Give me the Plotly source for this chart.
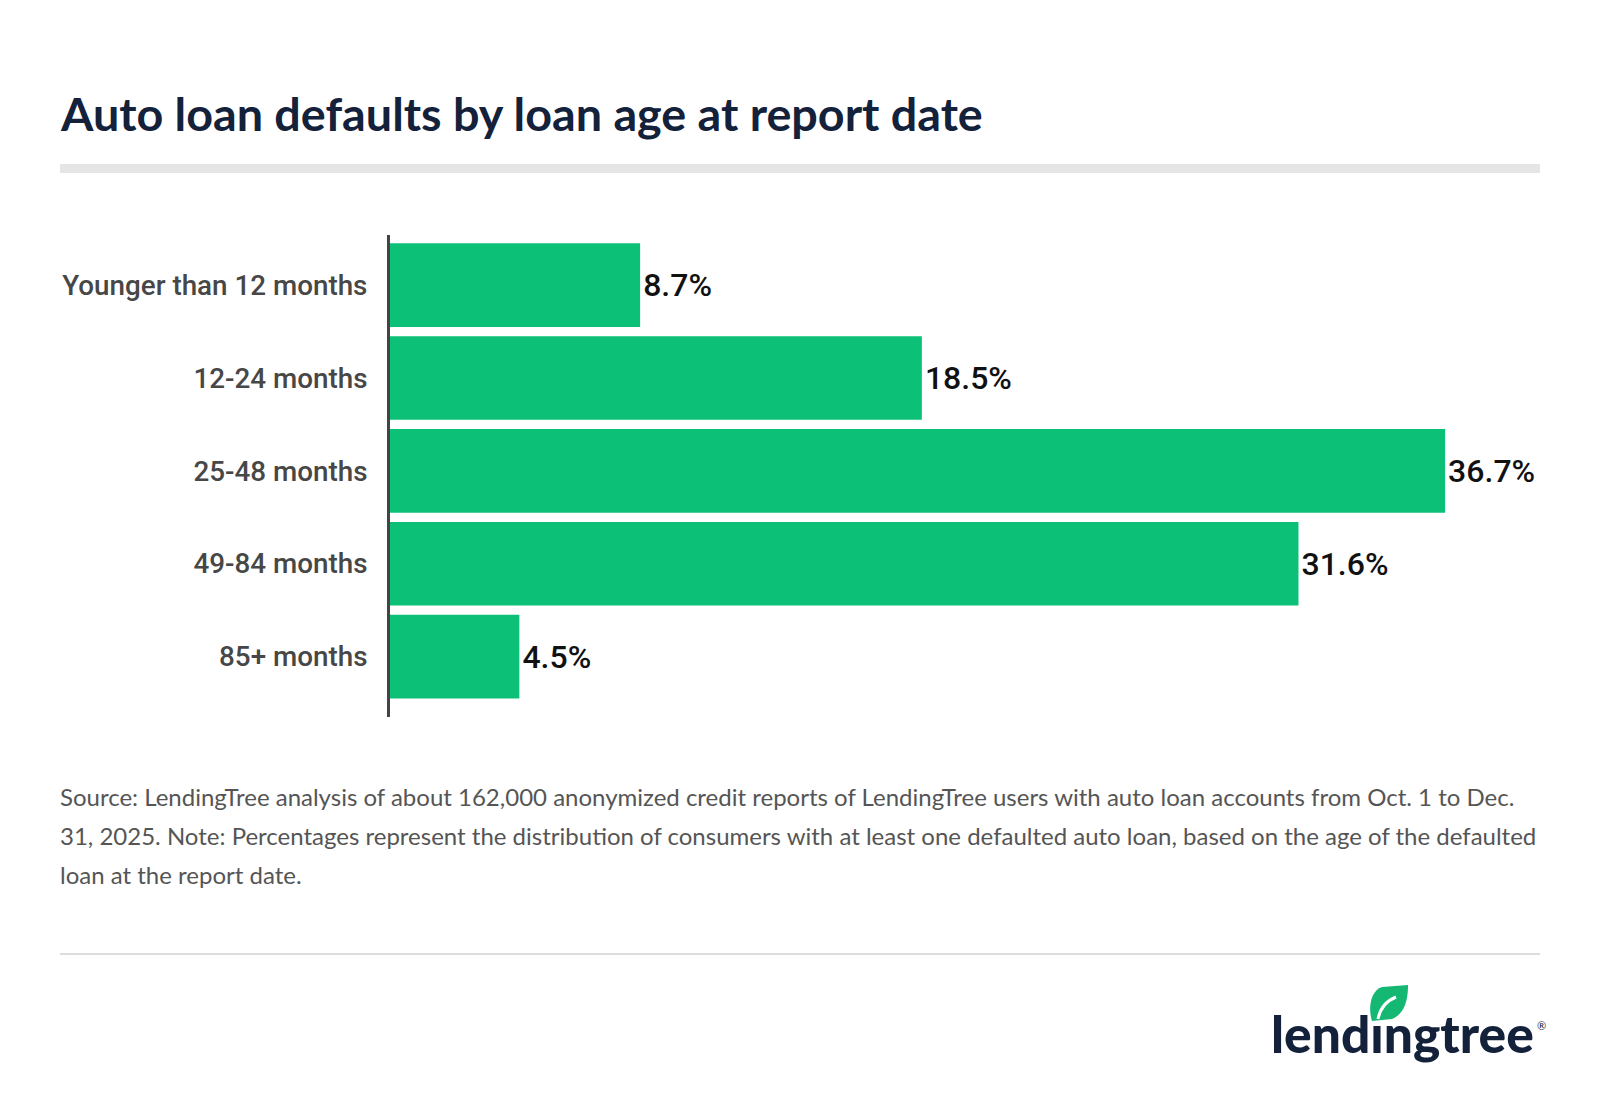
import plotly.graph_objects as go

categories = ["Younger than 12 months", "12-24 months", "25-48 months", "49-84 months", "85+ months"]
values = [8.7, 18.5, 36.7, 31.6, 4.5]
labels = ["8.7%", "18.5%", "36.7%", "31.6%", "4.5%"]

title_text = "Auto loan defaults by loan age at report date"
source_lines = [
    "Source: LendingTree analysis of about 162,000 anonymized credit reports of LendingTree users with auto loan accounts from Oct. 1 to Dec.",
    "31, 2025. Note: Percentages represent the distribution of consumers with at least one defaulted auto loan, based on the age of the defaulted",
    "loan at the report date.",
]

W, H = 1600, 1096
L, R, T, B = 382, 66, 227, 387
PW, PH = W - L - R, H - T - B


def px(x):
    return (x - L) / PW


def py(y):
    return (H - B - y) / PH


fig = go.Figure(
    go.Bar(
        y=categories,
        x=values,
        orientation="h",
        marker=dict(color="#0dc078", line=dict(width=0)),
        text=labels,
        textposition="outside",
        textfont=dict(family="Roboto", size=32, color="#111111", weight=500),
        cliponaxis=False,
        hoverinfo="skip",
    )
)

fig.update_layout(
    width=W,
    height=H,
    margin=dict(l=L, r=R, t=T, b=B, pad=0),
    paper_bgcolor="white",
    plot_bgcolor="white",
    bargap=0.1,
    showlegend=False,
    xaxis=dict(visible=False, range=[0, 40.07], fixedrange=True),
    yaxis=dict(
        type="category",
        categoryorder="array",
        categoryarray=categories,
        range=[4.65, -0.54],
        showline=True,
        linecolor="#444444",
        linewidth=3,
        showgrid=False,
        zeroline=False,
        ticks="",
        ticklabelstandoff=14,
        tickfont=dict(family="Roboto", size=27.8, color="#474747", weight=500),
    ),
)

annotations = [
    dict(
        text=title_text,
        x=px(50), y=py(105), xref="paper", yref="paper",
        xanchor="left", yanchor="middle", showarrow=False,
        font=dict(family="Lato", size=46.7, color="#13213a", weight="bold"),
    )
]
for line, yy in zip(source_lines, [788, 827, 866]):
    annotations.append(dict(
        text=line, x=px(50), y=py(yy), xref="paper", yref="paper",
        xanchor="left", yanchor="middle", showarrow=False,
        font=dict(family="Lato", size=24, color="#555555"),
    ))
annotations.append(dict(
    text="lend\u0131ngtree", x=px(1528), y=py(1025), xref="paper", yref="paper",
    xanchor="right", yanchor="middle", showarrow=False,
    font=dict(family="Lato", size=51.5, color="#13213a", weight=900),
))
annotations.append(dict(
    text="\u00ae", x=px(1527), y=py(1017), xref="paper", yref="paper",
    xanchor="left", yanchor="middle", showarrow=False,
    font=dict(family="Lato", size=11, color="#13213a"),
))
fig.update_layout(annotations=annotations)

# leaf decoration in the logo
dx, dy = -10, -7


def lp(x, y):
    return "{} {}".format(px(x + dx), py(y + dy))


path = "M " + lp(1374, 1020)
path += " C " + lp(1370, 1008) + " " + lp(1372, 990) + " " + lp(1384, 986)
path += " L " + lp(1410, 984)
path += " C " + lp(1410, 996) + " " + lp(1408, 1012) + " " + lp(1394, 1018)
path += " Z"
vein = "M " + lp(1380, 1018) + " C " + lp(1382, 1008) + " " + lp(1388, 1000) + " " + lp(1398, 996)

fig.update_layout(shapes=[
    dict(type="rect", xref="paper", yref="paper", x0=px(52), x1=px(1532), y0=py(156), y1=py(165),
         fillcolor="#e5e5e5", line=dict(width=0), layer="below"),
    dict(type="line", xref="paper", yref="paper", x0=px(52), x1=px(1532), y0=py(946), y1=py(946),
         line=dict(color="#dddddd", width=2)),
    dict(type="path", xref="paper", yref="paper", path=path,
         fillcolor="#14b873", line=dict(width=0)),
    dict(type="path", xref="paper", yref="paper", path=vein,
         line=dict(color="white", width=3)),
])

fig.write_html("out.html")
